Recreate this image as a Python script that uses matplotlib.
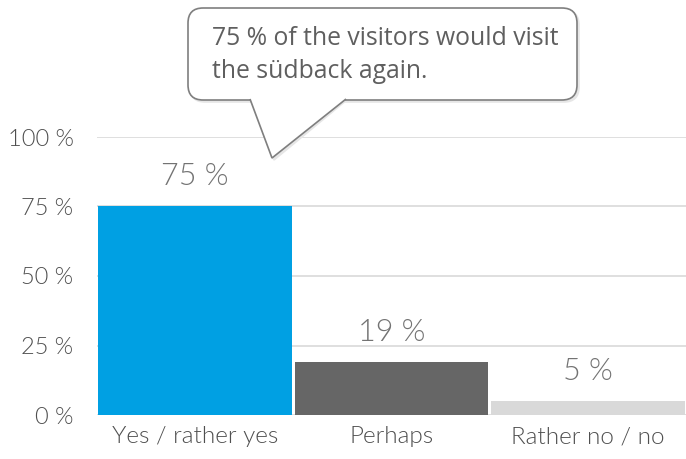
import matplotlib.pyplot as plt
from matplotlib.patches import FancyBboxPatch, Polygon

categories = ["Yes / rather yes", "Perhaps", "Rather no / no"]
values = [75, 19, 5]
labels = ["75 %", "19 %", "5 %"]
colors = ["#00a0e3", "#666666", "#d9d9d9"]
yticks = [0, 25, 50, 75, 100]
note = "75 % of the visitors would visit\nthe südback again."

plt.rcParams['font.family'] = ['Lato', 'DejaVu Sans']
plt.rcParams['font.weight'] = 300

fig = plt.figure(figsize=(6.86, 4.59), dpi=100)
W, H = 686, 459
ax = fig.add_axes([97 / W, 1 - 415 / H, 1 - 97 / W, (415 - 137) / H])

x = range(len(categories))
ax.bar(x, values, width=0.985, color=colors, zorder=2)
for i, v in enumerate(values):
    ax.annotate(labels[i], (i, v), xytext=(0, 11), textcoords="offset points",
                ha="center", va="bottom", fontsize=22, color="#737373")

ax.set_xlim(-0.5, 2.5)
ax.set_ylim(0, 100)
ax.set_yticks(yticks)
ax.set_yticklabels([f"{t} %" for t in yticks], fontsize=17, color="#4f4f4f")
ax.set_xticks(list(x))
ax.set_xticklabels(categories, fontsize=17.5, color="#4f4f4f")
ax.tick_params(length=0, pad=8)
ax.tick_params(axis="y", pad=17)
ax.grid(axis="y", color="#d9d9d9", lw=1.2, zorder=0)
for s in ax.spines.values():
    s.set_visible(False)


def fx(px):
    return px / W


def fy(py):
    return 1 - py / H


# callout with shadow
for off, fc, ec, z in [(2, "#e6e6e6", "#e6e6e6", 5), (0, "white", "#7f7f7f", 6)]:
    box = FancyBboxPatch((fx(188 + off), fy(100 + off)), fx(577) - fx(188), fy(8) - fy(100),
                         boxstyle="round,pad=0,rounding_size=0.022", transform=fig.transFigure,
                         facecolor=fc, edgecolor=ec, lw=1.2, zorder=z, mutation_aspect=W / H)
    fig.patches.append(box)
    tail = Polygon([(fx(250 + off), fy(99)), (fx(272 + off), fy(158 + off)), (fx(346 + off), fy(99))],
                   closed=False, transform=fig.transFigure, facecolor=fc, edgecolor=ec,
                   lw=1.2, zorder=z + 0.5)
    fig.patches.append(tail)

fig.text(fx(212), fy(55), note, fontsize=17.8, color="#5f5f5f", family=["Open Sans", "DejaVu Sans"],
         fontweight="normal", linespacing=1.45, va="center", ha="left", zorder=10)

fig.savefig("out.png", dpi=100)
